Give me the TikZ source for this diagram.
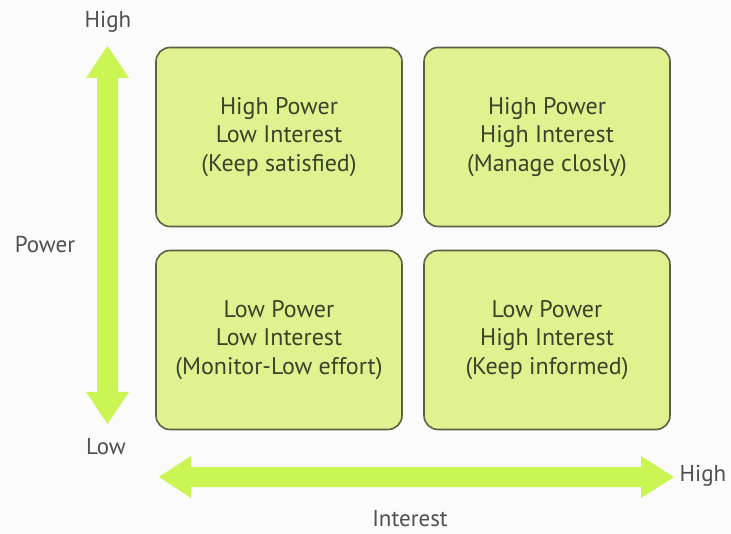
\documentclass[tikz,border=0pt]{standalone}
\usepackage{fontspec}
\setmainfont{PT Sans}
\begin{document}
\begin{tikzpicture}[x=1pt,y=-1pt,
  quad/.style={draw=boxline,line width=1.6pt,fill=boxfill,rounded corners=14pt,
     minimum width=246pt,minimum height=179pt,align=center,text=txt,
     font=\fontsize{24}{28.5}\selectfont},
  axlabel/.style={text=lbl,font=\fontsize{23}{25}\selectfont},
  axisarrow/.style={fill=arrowgreen,draw=none}]
\definecolor{boxfill}{HTML}{E0F290}
\definecolor{boxline}{HTML}{5C6045}
\definecolor{txt}{HTML}{3C4228}
\definecolor{lbl}{HTML}{505050}
\definecolor{arrowgreen}{HTML}{CBF553}
\fill[white!97!gray] (0,0) rectangle (731,534);
\useasboundingbox (0,0) rectangle (731,534);
% vertical arrow
\fill[axisarrow] (107.5,46) -- (129,78) -- (118,78) -- (118,392) -- (129,392) -- (107.5,424)
  -- (86,392) -- (97,392) -- (97,78) -- (86,78) -- cycle;
% horizontal arrow
\fill[axisarrow] (159,477) -- (191,456) -- (191,467) -- (641,467) -- (641,456) -- (674,477)
  -- (641,498) -- (641,487) -- (191,487) -- (191,498) -- cycle;
\node[quad] (hl) at (279,137) {High Power\\Low Interest\\(Keep satisfied)};
\node[quad] (hh) at (547,137) {High Power\\High Interest\\(Manage closly)};
\node[quad] (ll) at (279,340) {Low Power\\Low Interest\\(Monitor-Low effort)};
\node[quad] (lh) at (547,340) {Low Power\\High Interest\\(Keep informed)};
\node[axlabel] (phigh) at (108,22) {High};
\node[axlabel] (power) at (45,244) {Power};
\node[axlabel] (plow) at (106,447) {Low};
\node[axlabel] (ihigh) at (703,476) {High};
\node[axlabel] (interest) at (410,519) {Interest};
\end{tikzpicture}
\end{document}
